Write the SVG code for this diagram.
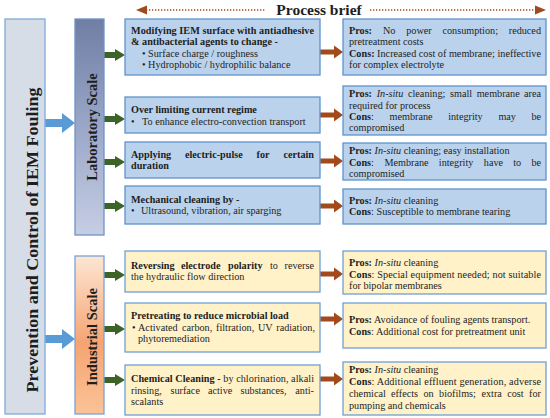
<svg xmlns="http://www.w3.org/2000/svg" width="550" height="418" viewBox="0 0 550 418">
<defs>
<linearGradient id="gLab" x1="0" y1="0" x2="0" y2="1">
<stop offset="0" stop-color="#6f7ea4"/>
<stop offset="0.5" stop-color="#9aa7c8"/>
<stop offset="1" stop-color="#c6cee4"/>
</linearGradient>
<linearGradient id="gInd" x1="0" y1="0" x2="0" y2="1">
<stop offset="0" stop-color="#fde6d4"/>
<stop offset="0.55" stop-color="#f5a472"/>
<stop offset="1" stop-color="#fac396"/>
</linearGradient>
</defs>
<style>
text{font-family:"Liberation Serif","Times New Roman",serif;fill:#1e1e1e}
.t{font-size:10.2px}
.b{font-weight:bold}
.i{font-style:italic}
.e{text-anchor:end}
.lab{fill:#bad2ec;stroke:#5f93cc;stroke-width:1.3}
.ind{fill:#fff1c8;stroke:#6f9fd6;stroke-width:1.3}
.green{fill:#3b6426}
.brown{fill:#a24a1c}
.blue{fill:#5b9bd5}
.dot{stroke:#a24a1c;stroke-width:1.6;stroke-dasharray:1.3 1.7;fill:none}
</style>

<g id="header">
<text x="319" y="15" text-anchor="middle" class="b" font-size="15.5">Process brief</text>
</g>

<g id="connectors">
<line class="dot" x1="146" y1="10" x2="266" y2="10"/>
<polygon class="brown" points="136,10 147,5.5 147,14.5"/>
<line class="dot" x1="370" y1="10" x2="536" y2="10"/>
<polygon class="brown" points="546,10 535,5.5 535,14.5"/>
<polygon class="blue" points="45,119 62,119 62,113 75,123 62,133 62,127 45,127"/>
<polygon class="blue" points="45,335 62,335 62,329 75,339 62,349 62,343 45,343"/>
<g class="green">
<polygon points="104,52 115,52 115,49 125,55 115,61 115,58 104,58"/>
<polygon points="104,116 115,116 115,113 125,119 115,125 115,122 104,122"/>
<polygon points="104,159 115,159 115,156 125,162 115,168 115,165 104,165"/>
<polygon points="104,203 115,203 115,200 125,206 115,212 115,209 104,209"/>
<polygon points="104,272 115,272 115,269 125,275 115,281 115,278 104,278"/>
<polygon points="104,326 115,326 115,323 125,329 115,335 115,332 104,332"/>
<polygon points="104,377 115,377 115,374 125,380 115,386 115,383 104,383"/>
</g>
<g class="brown">
<polygon points="320,49.5 334,49.5 334,45.5 343,52 334,58.5 334,54.5 320,54.5"/>
<polygon points="320,112.5 334,112.5 334,108.5 343,115 334,121.5 334,117.5 320,117.5"/>
<polygon points="320,158.5 334,158.5 334,154.5 343,161 334,167.5 334,163.5 320,163.5"/>
<polygon points="320,203.5 334,203.5 334,199.5 343,206 334,212.5 334,208.5 320,208.5"/>
<polygon points="320,271.5 334,271.5 334,267.5 343,274 334,280.5 334,276.5 320,276.5"/>
<polygon points="320,316.5 334,316.5 334,312.5 343,319 334,325.5 334,321.5 320,321.5"/>
<polygon points="320,376.5 334,376.5 334,372.5 343,379 334,385.5 334,381.5 320,381.5"/>
</g>
</g>

<g id="root">
<rect x="5" y="19" width="40" height="395" fill="#d6dde7" stroke="#7eaad9" stroke-width="1.3"/>
<text transform="translate(38,240) rotate(-90)" text-anchor="middle" class="b" font-size="17" textLength="305" lengthAdjust="spacingAndGlyphs">Prevention and Control of IEM Fouling</text>
</g>

<g id="lab-scale">
<rect x="75" y="19" width="29" height="216" fill="url(#gLab)" stroke="#6f92c6" stroke-width="1.3"/>
<text transform="translate(97,127) rotate(-90)" text-anchor="middle" class="b" font-size="14.5">Laboratory Scale</text>
</g>

<g id="industrial-scale">
<rect x="75" y="256" width="29" height="158" fill="url(#gInd)" stroke="#7aa3d6" stroke-width="1.3"/>
<text transform="translate(97,337) rotate(-90)" text-anchor="middle" class="b" font-size="14.5">Industrial Scale</text>
</g>

<g id="m1">
<rect class="lab" x="125" y="19" width="195" height="56"/>
<text class="t b" x="131" y="34" textLength="183" lengthAdjust="spacing">Modifying IEM surface with antiadhesive</text>
<text class="t b" x="131" y="45">&amp; antibacterial agents  to change -</text>
<text class="t" x="142" y="57">• Surface charge / roughness</text>
<text class="t" x="142" y="68">• Hydrophobic / hydrophilic balance</text>
</g>
<g id="r1">
<rect class="lab" x="343" y="19" width="203" height="56"/>
<text class="t" y="34"><tspan class="b" x="349">Pros:</tspan><tspan x="382.9">No</tspan><tspan x="406.2">power</tspan><tspan x="442.5">consumption;</tspan><tspan class="e" x="541">reduced</tspan></text>
<text class="t" x="349" y="45">pretreatment costs</text>
<text class="t" x="349" y="57" textLength="192" lengthAdjust="spacing"><tspan class="b">Cons:</tspan> Increased cost of membrane; ineffective</text>
<text class="t" x="349" y="68">for complex electrolyte</text>
</g>

<g id="m2">
<rect class="lab" x="125" y="97" width="195" height="36"/>
<text class="t b" x="131" y="113">Over limiting current regime</text>
<text class="t" y="125"><tspan x="131">•</tspan><tspan x="142">To enhance electro-convection transport</tspan></text>
</g>
<g id="r2">
<rect class="lab" x="343" y="86" width="203" height="49"/>
<text class="t" y="97"><tspan class="b" x="349">Pros:</tspan><tspan class="i" x="376.7">In-situ</tspan><tspan x="408">cleaning;</tspan><tspan x="450">small</tspan><tspan x="476.7">membrane</tspan><tspan class="e" x="541">area</tspan></text>
<text class="t" x="349" y="109">required for process</text>
<text class="t" y="120"><tspan x="349"><tspan class="b">Cons</tspan>:</tspan><tspan x="389.6">membrane</tspan><tspan x="448.2">integrity</tspan><tspan x="498.4">may</tspan><tspan class="e" x="541">be</tspan></text>
<text class="t" x="349" y="131">compromised</text>
</g>

<g id="m3">
<rect class="lab" x="125" y="142" width="195" height="36"/>
<text class="t b" y="158"><tspan x="131">Applying</tspan><tspan x="185">electric-pulse</tspan><tspan x="256.5">for</tspan><tspan class="e" x="314">certain</tspan></text>
<text class="t b" x="131" y="169">duration</text>
</g>
<g id="r3">
<rect class="lab" x="343" y="143" width="203" height="37"/>
<text class="t" x="349" y="154"><tspan class="b">Pros:</tspan> <tspan class="i">In-situ</tspan> cleaning; easy installation</text>
<text class="t" y="166"><tspan x="349"><tspan class="b">Cons</tspan>:</tspan><tspan x="384.4">Membrane</tspan><tspan x="438.8">integrity</tspan><tspan x="483.8">have</tspan><tspan x="513.2">to</tspan><tspan class="e" x="541">be</tspan></text>
<text class="t" x="349" y="177">compromised</text>
</g>

<g id="m4">
<rect class="lab" x="125" y="186" width="195" height="38"/>
<text class="t b" x="131" y="203">Mechanical cleaning by -</text>
<text class="t" y="214"><tspan x="131">•</tspan><tspan x="141">Ultrasound, vibration, air sparging</tspan></text>
</g>
<g id="r4">
<rect class="lab" x="343" y="189" width="203" height="35"/>
<text class="t" x="349" y="204"><tspan class="b">Pros:</tspan> <tspan class="i">In-situ</tspan> cleaning</text>
<text class="t" x="349" y="215"><tspan class="b">Cons</tspan>: Susceptible to membrane tearing</text>
</g>

<g id="m5">
<rect class="ind" x="125" y="251" width="195" height="41"/>
<text class="t" y="269"><tspan class="b" x="131">Reversing</tspan><tspan class="b" x="181">electrode</tspan><tspan class="b" x="228">polarity</tspan><tspan x="270">to</tspan><tspan class="e" x="314">reverse</tspan></text>
<text class="t" x="131" y="280">the hydraulic flow direction</text>
</g>
<g id="r5">
<rect class="ind" x="343" y="251" width="203" height="43"/>
<text class="t" x="349" y="266"><tspan class="b">Pros:</tspan> <tspan class="i">In-situ</tspan> cleaning</text>
<text class="t" x="349" y="278" textLength="192" lengthAdjust="spacing"><tspan class="b">Cons</tspan>: Special equipment needed; not suitable</text>
<text class="t" x="349" y="289">for  bipolar membranes</text>
</g>

<g id="m6">
<rect class="ind" x="125" y="303" width="195" height="49"/>
<text class="t b" x="131" y="319">Pretreating to reduce microbial load</text>
<text class="t" y="331"><tspan x="132">•</tspan><tspan x="138">Activated</tspan><tspan x="182">carbon,</tspan><tspan x="216">filtration,</tspan><tspan x="258">UV</tspan><tspan class="e" x="315">radiation,</tspan></text>
<text class="t" x="138" y="342">phytoremediation</text>
</g>
<g id="r6">
<rect class="ind" x="343" y="303" width="203" height="45"/>
<text class="t" x="349" y="323"><tspan class="b">Pros:</tspan> Avoidance of fouling agents transport.</text>
<text class="t" x="349" y="335"><tspan class="b">Cons</tspan>: Additional cost for pretreatment  unit</text>
</g>

<g id="m7">
<rect class="ind" x="125" y="365" width="195" height="50"/>
<text class="t" x="131" y="382" textLength="183" lengthAdjust="spacing"><tspan class="b">Chemical Cleaning -</tspan> by chlorination, alkali</text>
<text class="t" y="394"><tspan x="131">rinsing,</tspan><tspan x="170.5">surface</tspan><tspan x="208">active</tspan><tspan x="240.5">substances,</tspan><tspan class="e" x="314">anti-</tspan></text>
<text class="t" x="131" y="405">scalants</text>
</g>
<g id="r7">
<rect class="ind" x="343" y="362" width="203" height="53"/>
<text class="t" x="349" y="373"><tspan class="b">Pros:</tspan> <tspan class="i">In-situ</tspan> cleaning</text>
<text class="t" x="349" y="385" textLength="192" lengthAdjust="spacing"><tspan class="b">Cons</tspan>: Additional effluent generation, adverse</text>
<text class="t" y="397"><tspan x="349">chemical</tspan><tspan x="391.1">effects</tspan><tspan x="423.5">on</tspan><tspan x="439.1">biofilms;</tspan><tspan x="481.5">extra</tspan><tspan x="507.2">cost</tspan><tspan class="e" x="541">for</tspan></text>
<text class="t" x="349" y="409">pumping and chemicals</text>
</g>
</svg>
